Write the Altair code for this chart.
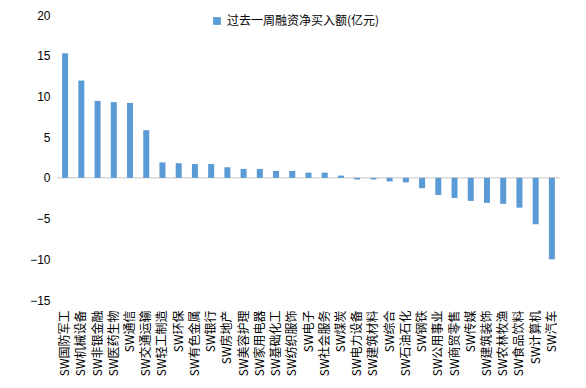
import altair as alt
import pandas as pd

categories = ["SW国防军工", "SW机械设备", "SW非银金融", "SW医药生物", "SW通信", "SW交通运输",
              "SW轻工制造", "SW环保", "SW有色金属", "SW银行", "SW房地产", "SW美容护理",
              "SW家用电器", "SW基础化工", "SW纺织服饰", "SW电子", "SW社会服务", "SW煤炭",
              "SW电力设备", "SW建筑材料", "SW综合", "SW石油石化", "SW钢铁", "SW公用事业",
              "SW商贸零售", "SW传媒", "SW建筑装饰", "SW农林牧渔", "SW食品饮料", "SW计算机", "SW汽车"]
values = [15.3, 11.95, 9.45, 9.3, 9.2, 5.85,
          1.9, 1.8, 1.7, 1.7, 1.3, 1.1,
          1.1, 0.85, 0.85, 0.64, 0.64, 0.28,
          -0.2, -0.2, -0.44, -0.56, -1.27, -2.1,
          -2.47, -2.83, -3.07, -3.19, -3.66, -5.7, -10.0]
series_name = "过去一周融资净买入额(亿元)"
y_ticks = [-15, -10, -5, 0, 5, 10, 15, 20]

df = pd.DataFrame({"cat": categories, "val": values, "series": series_name})

font = "Noto Sans CJK SC"

bars = alt.Chart(df).mark_bar(size=6).encode(
    x=alt.X("cat:N", sort=categories, title=None,
            scale=alt.Scale(paddingInner=0, paddingOuter=0),
            axis=alt.Axis(labelAngle=-90, domain=False, ticks=False, labelPadding=10,
                          labelFont=font, labelFontSize=12, labelColor="#000000")),
    y=alt.Y("val:Q", title=None,
            scale=alt.Scale(domain=[-15, 20], nice=False),
            axis=alt.Axis(values=y_ticks, domain=False, ticks=False, grid=False,
                          labelPadding=7, labelFont="Liberation Sans", labelFontSize=12,
                          labelColor="#000000")),
    color=alt.Color("series:N", scale=alt.Scale(range=["#5B9BD5"]),
                    legend=alt.Legend(title=None, orient="none", legendX=154, legendY=0,
                                      symbolType="square", symbolSize=60,
                                      labelFont=font, labelFontSize=12, labelColor="#000000"))
)

zero = alt.Chart(pd.DataFrame({"z": [0]})).mark_rule(color="#D9D9D9", strokeWidth=1.5).encode(
    y=alt.Y("z:Q")
)

chart = alt.layer(zero, bars).properties(
    width=503, height=285,
    autosize=alt.AutoSizeParams(type="none"),
    padding={"left": 49, "top": 7, "right": 10, "bottom": 80},
).configure_view(stroke=None)

chart.save("out.html", embed_options={"renderer": "svg", "actions": False})
